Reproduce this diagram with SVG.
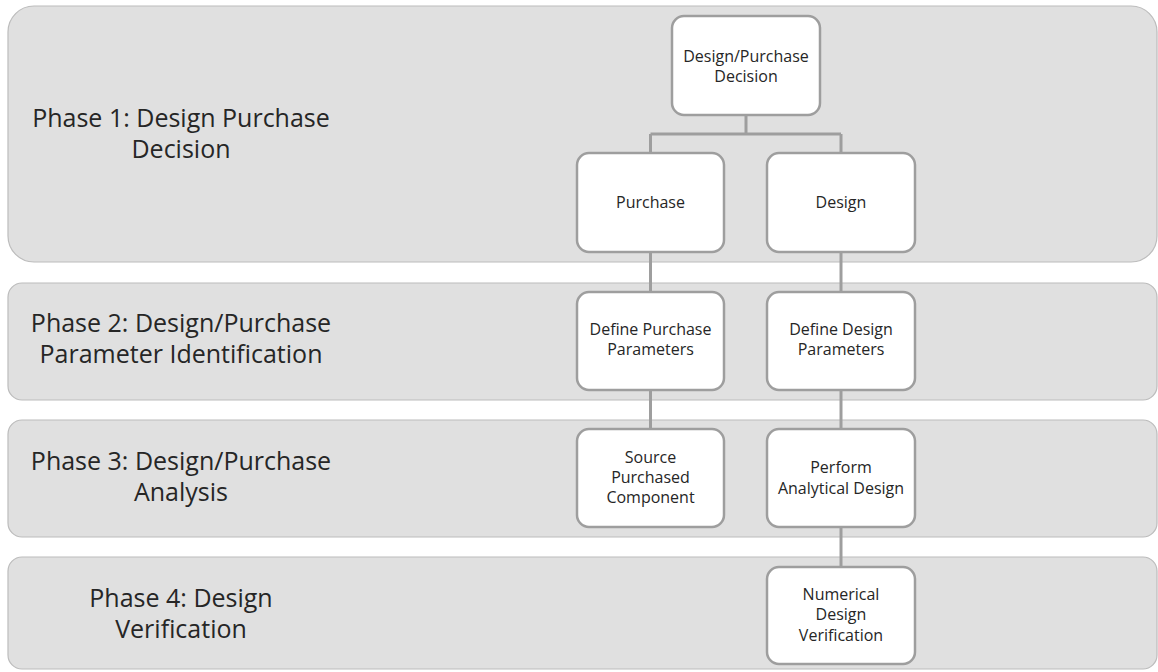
<svg xmlns="http://www.w3.org/2000/svg" width="1158" height="672" viewBox="0 0 1158 672">
<style>
.band{fill:#e0e0e0;stroke:#bcbcbc;stroke-width:1.2}
.node{fill:#ffffff;stroke:#9e9e9e;stroke-width:2.5}
.conn{fill:none;stroke:#9e9e9e;stroke-width:3}
.ph{font-family:"Open Sans","Liberation Sans",sans-serif;font-size:25px;fill:#262626;text-anchor:middle}
.nt{font-family:"Open Sans","Liberation Sans",sans-serif;font-size:16px;fill:#262626;text-anchor:middle}
</style>
<rect width="1158" height="672" fill="#ffffff"/>
<g id="bands">
<g id="phase1">
<rect class="band" x="8" y="6" width="1149" height="256" rx="26" ry="26"/>
<text class="ph" x="181" y="127">Phase 1: Design Purchase</text>
<text class="ph" x="181" y="158">Decision</text>
</g>
<g id="phase2">
<rect class="band" x="8" y="283" width="1149" height="117" rx="14" ry="14"/>
<text class="ph" x="181" y="332">Phase 2: Design/Purchase</text>
<text class="ph" x="181" y="363">Parameter Identification</text>
</g>
<g id="phase3">
<rect class="band" x="8" y="420" width="1149" height="117" rx="14" ry="14"/>
<text class="ph" x="181" y="470">Phase 3: Design/Purchase</text>
<text class="ph" x="181" y="501">Analysis</text>
</g>
<g id="phase4">
<rect class="band" x="8" y="557" width="1149" height="112" rx="14" ry="14"/>
<text class="ph" x="181" y="607">Phase 4: Design</text>
<text class="ph" x="181" y="638">Verification</text>
</g>
</g>
<g id="connectors">
<path class="conn" d="M746,115 V134 M650.5,134 H841 M650.5,134 V153 M841,134 V153"/>
<path class="conn" d="M650.5,252 V292"/>
<path class="conn" d="M841,252 V292"/>
<path class="conn" d="M650.5,390 V429"/>
<path class="conn" d="M841,390 V429"/>
<path class="conn" d="M841,527 V567"/>
</g>
<g id="decision">
<rect class="node" x="672" y="16" width="148" height="99" rx="12" ry="12"/>
<text class="nt" x="746" y="62">Design/Purchase</text>
<text class="nt" x="746" y="82">Decision</text>
</g>
<g id="purchase">
<rect class="node" x="577" y="153" width="147" height="99" rx="12" ry="12"/>
<text class="nt" x="650.5" y="208">Purchase</text>
</g>
<g id="design">
<rect class="node" x="767" y="153" width="148" height="99" rx="12" ry="12"/>
<text class="nt" x="841" y="208">Design</text>
</g>
<g id="define-purchase">
<rect class="node" x="577" y="292" width="147" height="98" rx="12" ry="12"/>
<text class="nt" x="650.5" y="335">Define Purchase</text>
<text class="nt" x="650.5" y="355">Parameters</text>
</g>
<g id="define-design">
<rect class="node" x="767" y="292" width="148" height="98" rx="12" ry="12"/>
<text class="nt" x="841" y="335">Define Design</text>
<text class="nt" x="841" y="355">Parameters</text>
</g>
<g id="source">
<rect class="node" x="577" y="429" width="147" height="98" rx="12" ry="12"/>
<text class="nt" x="650.5" y="463">Source</text>
<text class="nt" x="650.5" y="483">Purchased</text>
<text class="nt" x="650.5" y="503">Component</text>
</g>
<g id="perform">
<rect class="node" x="767" y="429" width="148" height="98" rx="12" ry="12"/>
<text class="nt" x="841" y="473">Perform</text>
<text class="nt" x="841" y="494">Analytical Design</text>
</g>
<g id="numerical">
<rect class="node" x="767" y="567" width="148" height="97" rx="12" ry="12"/>
<text class="nt" x="841" y="600">Numerical</text>
<text class="nt" x="841" y="620">Design</text>
<text class="nt" x="841" y="641">Verification</text>
</g>
</svg>
